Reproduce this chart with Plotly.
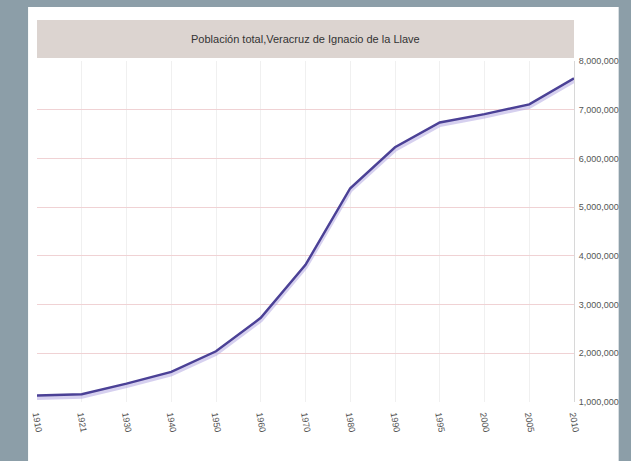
import plotly.graph_objects as go

years = ["1910", "1921", "1930", "1940", "1950", "1960", "1970", "1980", "1990", "1995", "2000", "2005", "2010"]
population = [1132859, 1159935, 1377293, 1619338, 2040231, 2727899, 3815422, 5387680, 6228239, 6737324, 6908975, 7110214, 7643194]
y_ticks = [1000000, 2000000, 3000000, 4000000, 5000000, 6000000, 7000000, 8000000]
y_tick_labels = ["1,000,000", "2,000,000", "3,000,000", "4,000,000", "5,000,000", "6,000,000", "7,000,000", "8,000,000"]
title = "Población total,Veracruz de Ignacio de la Llave"

W, H = 631, 461
L, R, T, B = 37, 53, 61, 59

fig = go.Figure()
# soft shadow under the line
fig.add_trace(go.Scatter(x=years, y=[v - 45000 for v in population], mode="lines",
                         line=dict(color="rgba(180,170,225,0.55)", width=4.5),
                         hoverinfo="skip", showlegend=False))
fig.add_trace(go.Scatter(x=years, y=population, mode="lines",
                         line=dict(color="#4b4196", width=2.4),
                         showlegend=False))

fig.update_layout(
    width=W, height=H,
    margin=dict(l=L, r=R, t=T, b=B),
    paper_bgcolor="#8c9ea8",
    plot_bgcolor="white",
    font=dict(family="Liberation Sans, Arial, sans-serif", color="#555555"),
    xaxis=dict(
        type="category", range=[0, 12], tickangle=80,
        tickfont=dict(size=9, color="#555555"),
        showgrid=True, gridcolor="#f0f0f0", gridwidth=1,
        zeroline=False, showline=False, ticks="outside", ticklen=3, tickcolor="white",
    ),
    yaxis=dict(
        side="right", range=[1000000, 8000000],
        tickvals=y_ticks, ticktext=y_tick_labels,
        tickfont=dict(size=9, color="#555555"),
        showgrid=True, gridcolor="#f0d2d4", gridwidth=1,
        zeroline=False, showline=True, linecolor="#d8d8d8", linewidth=1,
        ticks="", ticklabelstandoff=2,
    ),
    shapes=[
        dict(type="rect", xref="paper", yref="paper", layer="below",
             x0=(28 - L) / (W - L - R), x1=(623 - L) / (W - L - R),
             y0=(H - B - 470) / (H - T - B), y1=(H - B - 7) / (H - T - B),
             fillcolor="white", line=dict(width=0)),
        dict(type="rect", xref="paper", yref="paper", layer="above",
             x0=0, x1=1,
             y0=(H - B - 58) / (H - T - B), y1=(H - B - 20) / (H - T - B),
             fillcolor="#dcd4d0", line=dict(width=0)),
    ],
    annotations=[
        dict(text=title, xref="paper", yref="paper", x=0.5,
             y=(H - B - 39) / (H - T - B), showarrow=False,
             xanchor="center", yanchor="middle",
             font=dict(size=11, color="#333333")),
    ],
)

fig.write_html("out.html")
